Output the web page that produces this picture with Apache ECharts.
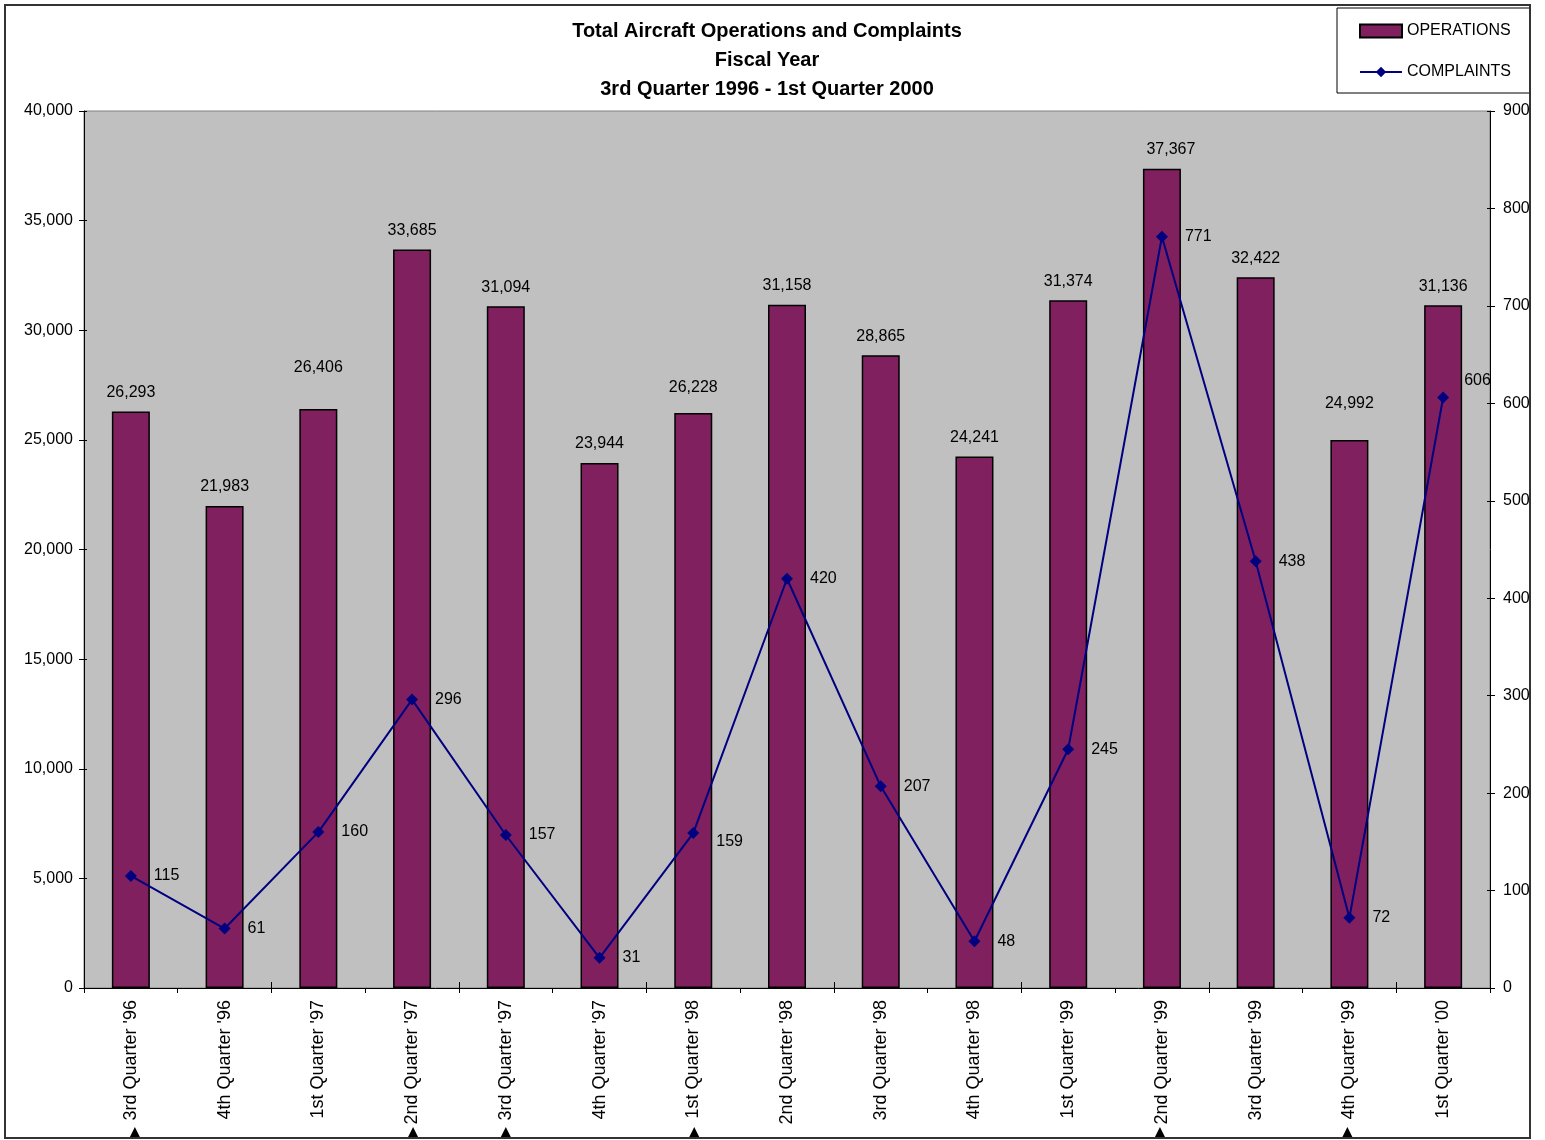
<!DOCTYPE html>
<html>
<head>
<meta charset="utf-8">
<script src="https://cdn.jsdelivr.net/npm/echarts@6/dist/echarts.min.js"></script>
<style>
html,body{margin:0;padding:0;background:#fff;}
#chart{width:1545px;height:1140px;}
</style>
</head>
<body>
<div id="chart"></div>
<script>
var categories = ["3rd Quarter '96","4th Quarter '96","1st Quarter '97","2nd Quarter '97","3rd Quarter '97","4th Quarter '97","1st Quarter '98","2nd Quarter '98","3rd Quarter '98","4th Quarter '98","1st Quarter '99","2nd Quarter '99","3rd Quarter '99","4th Quarter '99","1st Quarter '00"];
var operations = [26293,21983,26406,33685,31094,23944,26228,31158,28865,24241,31374,37367,32422,24992,31136];
var complaints = [115,61,160,296,157,31,159,420,207,48,245,771,438,72,606];
var leftTicks = [0,5000,10000,15000,20000,25000,30000,35000,40000];
var rightTicks = [0,100,200,300,400,500,600,700,800,900];
var markedCategories = [0,3,4,6,11,13];

var FONT = "'Liberation Sans', Arial, sans-serif";
var chart = echarts.init(document.getElementById('chart'));

var barLabelOffsets = {2: [0, -22], 6: [0, -6], 11: [9, 0], 13: [0, -17]};
var lineLabelOffsets = {6: [0, 9], 14: [-2, -17]};
var markOffsets = [4, 1, 0, 1, -2, -2];

var barData = operations.map(function(v, i){
  var d = {value: v};
  if (barLabelOffsets[i]) d.label = {offset: barLabelOffsets[i]};
  return d;
});
var lineData = complaints.map(function(v, i){
  var d = {value: v};
  if (lineLabelOffsets[i]) d.label = {offset: lineLabelOffsets[i]};
  return d;
});

var tickStyle = {color: '#000', width: 1};

var option = {
  animation: false,
  backgroundColor: '#ffffff',
  textStyle: {fontFamily: FONT},
  title: {
    text: 'Total Aircraft Operations and Complaints\nFiscal Year\n3rd Quarter 1996 - 1st Quarter 2000',
    left: 762, top: 12, textAlign: 'center',
    textStyle: {fontFamily: FONT, fontSize: 20, fontWeight: 'bold', color: '#000', lineHeight: 29}
  },
  legend: {
    left: 1359, top: 23, orient: 'vertical', padding: 0,
    itemWidth: 42, itemHeight: 13, itemGap: 25, itemTextGap: 3,
    textStyle: {fontFamily: FONT, fontSize: 16, color: '#000'},
    data: [{name: 'OPERATIONS', icon: 'rect'}, {name: 'COMPLAINTS'}]
  },
  grid: {
    left: 84, right: 55, top: 111, bottom: 152,
    show: true, backgroundColor: '#C0C0C0', borderColor: '#808080', borderWidth: 1
  },
  xAxis: [{
    type: 'category', data: categories,
    axisLine: {lineStyle: {color: '#000', width: 1}},
    axisTick: {show: true, length: 5, lineStyle: tickStyle},
    axisLabel: {rotate: 90, fontFamily: FONT, fontSize: 18, color: '#000', margin: 12}
  }, {
    type: 'category', data: categories, position: 'bottom',
    axisLine: {show: false},
    axisTick: {show: true, inside: true, length: 6, lineStyle: tickStyle},
    axisLabel: {show: false}
  }],
  yAxis: [{
    type: 'value', min: 0, max: 40000, interval: 5000, position: 'left',
    axisLine: {show: true, lineStyle: {color: '#000'}},
    axisTick: {show: true, length: 5, lineStyle: tickStyle},
    splitLine: {show: false},
    axisLabel: {fontFamily: FONT, fontSize: 16, color: '#000', margin: 11,
      formatter: function(v){ return v.toLocaleString('en-US'); }}
  }, {
    type: 'value', min: 0, max: 900, interval: 100, position: 'right',
    axisLine: {show: true, lineStyle: {color: '#000'}},
    axisTick: {show: true, length: 5, lineStyle: tickStyle},
    splitLine: {show: false},
    axisLabel: {fontFamily: FONT, fontSize: 16, color: '#000', margin: 13}
  }, {
    type: 'value', min: 0, max: 40000, interval: 5000, position: 'left',
    axisLine: {show: false}, axisTick: {show: true, inside: true, length: 3, lineStyle: tickStyle},
    splitLine: {show: false}, axisLabel: {show: false}
  }, {
    type: 'value', min: 0, max: 900, interval: 100, position: 'right',
    axisLine: {show: false}, axisTick: {show: true, inside: true, length: 3, lineStyle: tickStyle},
    splitLine: {show: false}, axisLabel: {show: false}
  }],
  series: [{
    name: 'OPERATIONS', type: 'bar', data: barData, yAxisIndex: 0,
    barWidth: 38,
    itemStyle: {color: '#80205F', borderColor: '#000', borderWidth: 1.5},
    label: {show: true, position: 'top', distance: 11, fontFamily: FONT, fontSize: 16, color: '#000',
      formatter: function(p){ return p.value.toLocaleString('en-US'); }},
    z: 2
  }, {
    name: 'COMPLAINTS', type: 'line', data: lineData, yAxisIndex: 1,
    symbol: 'diamond', symbolSize: 12,
    lineStyle: {color: '#000080', width: 2},
    itemStyle: {color: '#000080'},
    label: {show: true, position: 'right', distance: 17, fontFamily: FONT, fontSize: 16, color: '#000'},
    z: 3
  }]
};
chart.setOption(option);

var graphics = [{
  type: 'rect', shape: {x: 5, y: 5, width: 1525, height: 1133},
  style: {fill: null, stroke: '#333', lineWidth: 2}, silent: true, z: 100
}, {
  type: 'rect', shape: {x: 1337, y: 8, width: 193, height: 85},
  style: {fill: '#fff', stroke: '#000', lineWidth: 1}, silent: true, z: -1
}];
markedCategories.forEach(function(ci, k){
  var x = chart.convertToPixel({xAxisIndex: 0}, ci) + markOffsets[k];
  graphics.push({
    type: 'polygon',
    shape: {points: [[x - 6, 1139], [x, 1127], [x + 6, 1139]]},
    style: {fill: '#000'}, silent: true, z: 99
  });
});
chart.setOption({graphic: graphics});
</script>
</body>
</html>
